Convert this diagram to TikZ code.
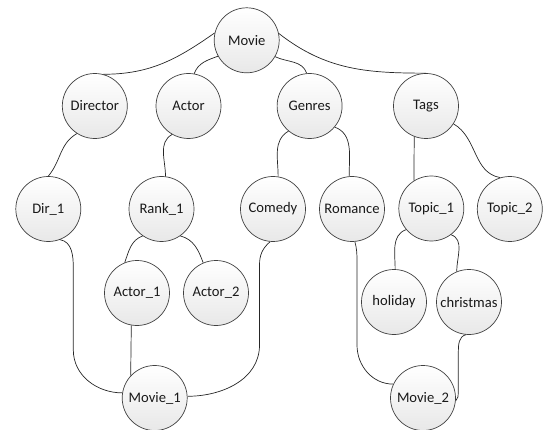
\documentclass[tikz,border=0pt]{standalone}
\usepackage{fontspec}
\setmainfont{Carlito}
\begin{document}
\begin{tikzpicture}[x=1pt,y=1pt,
  ent/.style={circle, draw=black!75, line width=0.7pt, top color=white, bottom color=black!9,
    minimum size=65pt, inner sep=0pt, font=\fontsize{14.6}{17}\selectfont, text=black!90},
  conn/.style={draw=black!85, line width=0.7pt}]
\useasboundingbox (0,0) rectangle (543,-430);
\node[ent] (movie) at (246.7,-40.3) {Movie};
\node[ent] (director) at (94.8,-106) {Director};
\node[ent] (actor) at (188.5,-106) {Actor};
\node[ent] (genres) at (309.6,-106) {Genres};
\node[ent] (tags) at (426,-106) {Tags};
\node[ent] (dir1) at (48.3,-209) {Dir\_1};
\node[ent] (rank1) at (161.5,-209) {Rank\_1};
\node[ent] (comedy) at (273,-209) {Comedy};
\node[ent] (romance) at (352,-209) {Romance};
\node[ent] (topic1) at (431.3,-208.5) {Topic\_1};
\node[ent] (topic2) at (509.8,-209) {Topic\_2};
\node[ent] (actor1) at (137,-293) {Actor\_1};
\node[ent] (actor2) at (216,-293) {Actor\_2};
\node[ent] (holiday) at (394,-302) {holiday};
\node[ent] (christmas) at (469,-302) {christmas};
\node[ent] (movie1) at (154.7,-398) {Movie\_1};
\node[ent] (movie2) at (423,-398) {Movie\_2};

\draw[conn] (movie.167) to[out=215,in=0] (director.75);
\draw[conn] (movie.209) to[out=200,in=70] (actor.80);
\draw[conn] (movie.-30) to[out=-25,in=110] (genres.95);
\draw[conn] (movie.12) to[out=-38,in=180] (tags.90);
\draw[conn] (director.237) to[out=210,in=50] (dir1.90);
\draw[conn] (actor.240) to[out=210,in=90] (rank1.83);
\draw[conn] (genres.230) to[out=210,in=90] (comedy.81);
\draw[conn] (genres.-40) to[out=-20,in=90] (romance.95);
\draw[conn] (tags.249) -- (topic1.122);
\draw[conn] (tags.-33) to[out=-30,in=170] (topic2.107);
\draw[conn] (rank1.235) to[out=200,in=70] (actor1.112);
\draw[conn] (rank1.-55) to[out=-15,in=110] (actor2.113);
\draw[conn] (topic1.220) to[out=200,in=90] (holiday.88);
\draw[conn] (topic1.-53) to[out=-20,in=90] (christmas.112);
\draw[conn] (actor1.260) -- (movie1.137);
\draw[conn] (dir1.-69) to[out=-10,in=90] (73.3,-268) -- (73.3,-350) to[out=-90,in=180] (movie1.171);
\draw[conn] (comedy.265) to[out=220,in=90] (259.5,-265) -- (259.5,-345) to[out=-90,in=0] (movie1.3);
\draw[conn] (romance.-85) to[out=-75,in=90] (357,-262) -- (357,-345) to[out=-90,in=180] (movie2.155);
\draw[conn] (christmas.265) to[out=190,in=90] (458.3,-352) -- (458.3,-392) to[out=-90,in=45] (movie2.-5);
\end{tikzpicture}
\end{document}
